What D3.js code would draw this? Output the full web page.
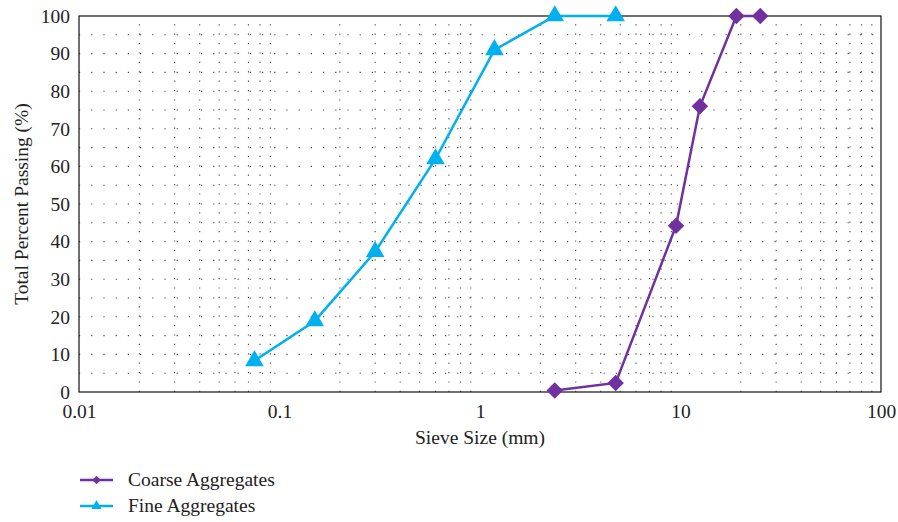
<!DOCTYPE html>
<html>
<head>
<meta charset="utf-8">
<script src="https://d3js.org/d3.v7.min.js"></script>
<style>
  body { margin: 0; background: #fff; }
  text { font-family: "Liberation Serif", "DejaVu Serif", serif; fill: #222; }
</style>
</head>
<body>
<svg id="chart" width="898" height="522"></svg>
<script>
// Sieve analysis, sizes in mm, passing in %
var coarseSize = [2.36, 4.75, 9.5, 12.5, 19, 25];
var coarsePass = [0.4, 2.4, 44.2, 76, 100, 100];
var fineSize = [0.075, 0.15, 0.3, 0.6, 1.18, 2.36, 4.75];
var finePass = [8.3, 18.9, 37.3, 62, 91, 100, 100];
var xTicks = [0.01, 0.1, 1, 10, 100];
var yTicks = [0, 10, 20, 30, 40, 50, 60, 70, 80, 90, 100];

var svg = d3.select("#chart");
// plot box (window.top is reserved, hence the names)
var pLeft = 79, pRight = 881, pTop = 16, pBottom = 392;
var fs = "19.5px";

var x = d3.scaleLog().domain([0.01, 100]).range([pLeft, pRight]);
var y = d3.scaleLinear().domain([0, 100]).range([pBottom, pTop]);

// dotted grid: horizontal every 5, vertical at 2..9 of each decade
var g = svg.append("g");
g.selectAll(".hg").data(d3.range(5, 100, 5))
  .enter().append("line")
  .attr("x1", pLeft).attr("x2", pRight)
  .attr("y1", function(d) { return y(d); }).attr("y2", function(d) { return y(d); })
  .attr("stroke", "#444").attr("stroke-width", 1.1)
  .attr("stroke-dasharray", "1.2,11");

var minors = [];
[0.01, 0.1, 1, 10].forEach(function(dec) {
  for (var k = 2; k <= 9; k++) minors.push(dec * k);
});
g.selectAll(".vg").data(minors)
  .enter().append("line")
  .attr("y1", pBottom).attr("y2", pTop)
  .attr("x1", function(d) { return x(d); }).attr("x2", function(d) { return x(d); })
  .attr("stroke", "#444").attr("stroke-width", 1.1)
  .attr("stroke-dasharray", "1.2,8.2");

// frame
svg.append("rect")
  .attr("x", pLeft).attr("y", pTop)
  .attr("width", pRight - pLeft).attr("height", pBottom - pTop)
  .attr("fill", "none").attr("stroke", "#222").attr("stroke-width", 1.3);

// axes (labels only, no ticks)
var xAxis = svg.append("g").attr("transform", "translate(0," + pBottom + ")")
  .call(d3.axisBottom(x).tickValues(xTicks).tickSize(0).tickPadding(12)
    .tickFormat(function(d) { return String(d); }));
xAxis.select(".domain").remove();
xAxis.selectAll("text").style("font-size", fs).style("font-family", "Liberation Serif").attr("fill", "#222");

var yAxis = svg.append("g").attr("transform", "translate(" + pLeft + ",0)")
  .call(d3.axisLeft(y).tickValues(yTicks).tickSize(0).tickPadding(9));
yAxis.select(".domain").remove();
yAxis.selectAll("text").style("font-size", fs).style("font-family", "Liberation Serif").attr("fill", "#222");

svg.append("text")
  .attr("x", (pLeft + pRight) / 2).attr("y", 444)
  .attr("text-anchor", "middle").style("font-size", fs)
  .text("Sieve Size (mm)");

svg.append("text")
  .attr("transform", "translate(28," + (pTop + pBottom) / 2 + ")rotate(-90)")
  .attr("text-anchor", "middle").style("font-size", fs)
  .text("Total Percent Passing (%)");

var line = d3.line()
  .x(function(d) { return x(d[0]); })
  .y(function(d) { return y(d[1]); });

// diamond = square turned 45 degrees
var series = [
  { name: "Coarse Aggregates", color: "#7030a0", shape: d3.symbolSquare, size: 135, rot: 45,
    legSize: 36, pts: d3.zip(coarseSize, coarsePass) },
  { name: "Fine Aggregates", color: "#00b0f0", shape: d3.symbolTriangle, size: 150, rot: 0,
    legSize: 45, pts: d3.zip(fineSize, finePass) }
];

series.forEach(function(s) {
  svg.append("path").datum(s.pts)
    .attr("d", line).attr("fill", "none")
    .attr("stroke", s.color).attr("stroke-width", 2.5);
  svg.selectAll(null).data(s.pts)
    .enter().append("path")
    .attr("d", d3.symbol().type(s.shape).size(s.size))
    .attr("transform", function(d) {
      return "translate(" + x(d[0]) + "," + y(d[1]) + ") rotate(" + s.rot + ")";
    })
    .attr("fill", s.color);
});

// legend
var leg = svg.selectAll(".leg").data(series).enter().append("g")
  .attr("transform", function(d, i) { return "translate(80," + (480 + i * 26) + ")"; });
leg.append("line").attr("x1", 0).attr("x2", 33).attr("y1", 0).attr("y2", 0)
  .attr("stroke", function(d) { return d.color; }).attr("stroke-width", 2.5);
leg.append("path")
  .attr("d", function(d) { return d3.symbol().type(d.shape).size(d.legSize)(); })
  .attr("transform", function(d) { return "translate(16.5,0) rotate(" + d.rot + ")"; })
  .attr("fill", function(d) { return d.color; });
leg.append("text").attr("x", 48).attr("y", 6)
  .style("font-size", fs)
  .text(function(d) { return d.name; });
</script>
</body>
</html>
